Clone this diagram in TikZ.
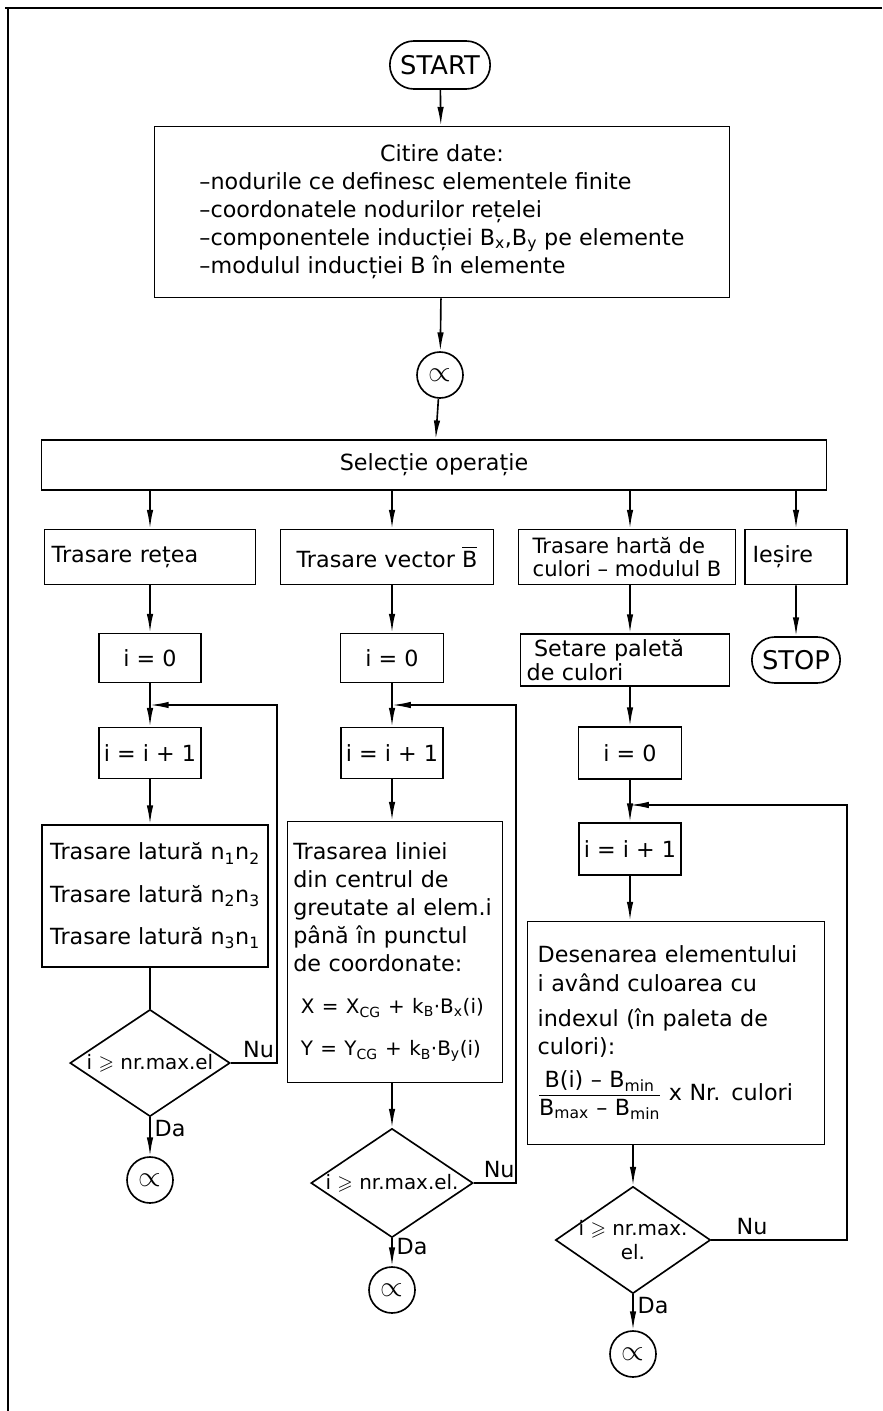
\documentclass[tikz,border=0pt]{standalone}
\usepackage{amsmath}
\usepackage{amssymb}
\usepackage{fontspec}
\setmainfont{DejaVu Sans}
\usepackage{tikz}
\usetikzlibrary{shapes.geometric,shapes.misc,arrows.meta,positioning}
\tikzset{%
  font=\fontsize{19}{24}\selectfont,
  >={Latex[length=16pt,width=5.5pt]},
  term/.style={rounded rectangle,draw,inner sep=2pt,font=\fontsize{22}{24}\selectfont},
  box/.style={rectangle,draw,inner sep=4pt,align=center},
  lbox/.style={rectangle,draw,inner sep=6pt,align=left},
  decision/.style={diamond,draw,inner sep=0pt},
  conn/.style={circle,draw,minimum size=1.38cm,inner sep=0pt,font=\fontsize{28}{28}\selectfont},
  yesno/.style={font=\fontsize{19}{20}\selectfont},
  cond/.style={font=\fontsize{17}{20}\selectfont,align=center}
}
\newcommand{\maxge}{$\geqslant$}
\newcommand{\frm}{\fontsize{17}{20}\selectfont}

\begin{document}
\begin{tikzpicture}[x=0.03cm,y=-0.03cm,line width=1.4pt]
	\useasboundingbox (0,0) rectangle (882,1411);
	% frame
	\draw (5,8) -- (882,8);
	\draw (8,8) -- (8,1411);

	% common part
	\node[term,minimum width=3.15cm,minimum height=1.44cm] (start) at (440,65) {START};
	\node[box,minimum width=17.25cm,minimum height=5.13cm] (citire) at (442,212) {%
		\begin{tabular}{@{}l@{}}
		\multicolumn{1}{c}{Citire date:}\\
		–nodurile ce definesc elementele finite\\
		–coordonatele nodurilor rețelei\\
		–componentele inducției B\textsubscript{x},B\textsubscript{y} pe elemente\\
		–modulul inducției B în elemente
		\end{tabular}};
	\node[conn] (con0) at (440,375) {$\propto$};
	\node[box,minimum width=23.55cm,minimum height=1.5cm] (sel) at (434,465) {Selecție operație};

	\node[lbox,minimum width=6.3cm,minimum height=1.65cm,text width=5.9cm] (op1) at (150,557) {Trasare rețea};
	\node[box,minimum width=6.39cm,minimum height=1.65cm] (op2) at (387,557) {Trasare vector $\overline{\text{B}}$};
	\node[lbox,minimum width=6.51cm,minimum height=1.65cm,inner sep=3pt,font=\fontsize{18}{20}\selectfont] (op3) at (627,557) {Trasare hartă de\\culori – modulul B};
	\node[lbox,minimum width=3.06cm,minimum height=1.65cm,text width=2.6cm] (op4) at (796,557) {Ieșire};

	\draw[->] (start) -- (citire);
	\draw[->] (citire) -- (con0);
	\draw[->] (con0) -- (sel);
	\foreach \op/\xx in {op1/150,op2/392,op3/630,op4/796}
		\draw[->] (sel.south -| \xx,0) -- (\op.north -| \xx,0);

	% column 1
	\node[box,minimum width=3.06cm,minimum height=1.47cm] (ini1) at (150,658) {i = 0};
	\node[box,minimum width=3.06cm,minimum height=1.53cm] (inc1) at (150,753) {i = i + 1};
	\node[box,minimum width=6.78cm,minimum height=4.26cm] (lat1) at (155,896) {%
		Trasare latură n\textsubscript{1}n\textsubscript{2}\\[12pt]
		Trasare latură n\textsubscript{2}n\textsubscript{3}\\[12pt]
		Trasare latură n\textsubscript{3}n\textsubscript{1}};
	\node[decision,minimum width=4.8cm,minimum height=3.21cm,label={[cond]center:{i \maxge\ nr.max.el}}] (d1) at (150,1063) {};
	\node[conn] (con1) at (150,1180) {$\propto$};
	\coordinate (ret1) at (277,705);

	\draw[->] (op1.south -| ini1) -- (ini1);
	\draw[->] (ini1) -- (inc1);
	\draw[->] (inc1) -- (inc1 |- lat1.north);
	\draw (inc1 |- lat1.south) -- (d1.north);
	\draw[->] (d1.east) -- node[yesno,above,pos=.6]{Nu} (d1.east -| ret1) -- (ret1) -- (inc1.north |- ret1);
	\draw[->] (d1.south) -- node[yesno,right,pos=.3]{Da} (con1.north);

	% column 2
	\node[box,minimum width=3.09cm,minimum height=1.47cm] (ini2) at (392,658) {i = 0};
	\node[box,minimum width=3.06cm,minimum height=1.53cm] (inc2) at (392,753) {i = i + 1};
	\node[lbox,minimum width=6.45cm,minimum height=7.83cm,text width=6.1cm,inner sep=4pt] (vec2) at (395,952) {%
		Trasarea liniei\\
		din centrul de\\
		greutate al elem.i\\
		până în punctul\\
		de coordonate:\\[12pt]
		{\frm\ X = X\textsubscript{CG} + k\textsubscript{B}·B\textsubscript{x}(i)}\\[12pt]
		{\frm\ Y = Y\textsubscript{CG} + k\textsubscript{B}·B\textsubscript{y}(i)}};
	\node[decision,minimum width=4.86cm,minimum height=3.27cm,label={[cond]center:{i \maxge\ nr.max.el.}}] (d2) at (392,1183) {};
	\node[conn] (con2) at (392,1290) {$\propto$};
	\coordinate (ret2) at (516,705);

	\draw[->] (op2.south -| ini2) -- (ini2);
	\draw[->] (ini2) -- (inc2);
	\draw[->] (inc2) -- (inc2 |- vec2.north);
	\draw[->] (inc2 |- vec2.south) -- (d2.north);
	\draw[->] (d2.east) -- node[yesno,above,pos=.6]{Nu} (d2.east -| ret2) -- (ret2) -- (inc2.north |- ret2);
	\draw[->] (d2.south) -- node[yesno,right,pos=.3]{Da} (con2.north);

	% column 3
	\node[lbox,minimum width=6.27cm,minimum height=1.56cm,text width=5.9cm,inner sep=3pt,font=\fontsize{19}{20}\selectfont] (pal3) at (625,660) {\ Setare paletă\\de culori};
	\node[box,minimum width=3.09cm,minimum height=1.56cm] (ini3) at (630,753) {i = 0};
	\node[box,minimum width=3.06cm,minimum height=1.56cm] (inc3) at (630,849) {i = i + 1};
	\node[lbox,minimum width=8.91cm,minimum height=6.69cm,text width=8.3cm] (des3) at (676,1033) {%
		Desenarea elementului\\
		i având culoarea cu\\[6pt]
		indexul (în paleta de\\
		culori):\\[10pt]
		$\dfrac{\text{B(i) – B\textsubscript{min}}}{\text{B\textsubscript{max} – B\textsubscript{min}}}$ x Nr. culori};
	\node[decision,minimum width=4.65cm,minimum height=3.21cm,label={[cond]center:{i \maxge\ nr.max.\\el.}}] (d3) at (633,1240) {};
	\node[conn] (con3) at (633,1354) {$\propto$};
	\coordinate (ret3) at (847,805);

	\draw[->] (op3.south -| ini3) -- (ini3 |- pal3.north);
	\draw[->] (ini3 |- pal3.south) -- (ini3);
	\draw[->] (ini3) -- (inc3);
	\draw[->] (inc3) -- (inc3 |- des3.north);
	\draw[->] (d3 |- des3.south) -- (d3.north);
	\draw[->] (d3.east) -- node[yesno,above,pos=.3]{Nu} (d3.east -| ret3) -- (ret3) -- (inc3.north |- ret3);
	\draw[->] (d3.south) -- node[yesno,right,pos=.3]{Da} (con3.north);

	% column 4
	\node[term,minimum width=2.79cm,minimum height=1.38cm] (stop) at (796,660) {STOP};
	\draw[->] (op4) -- (stop);
\end{tikzpicture}
\end{document}
